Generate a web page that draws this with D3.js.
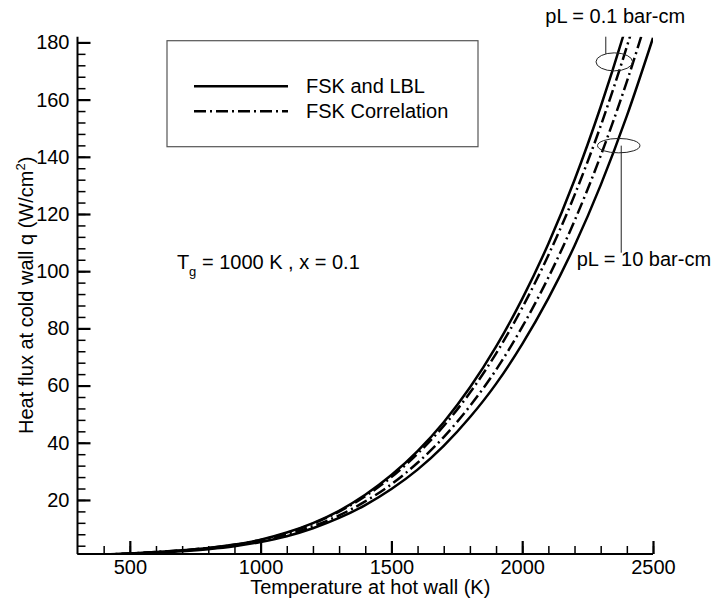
<!DOCTYPE html>
<html>
<head>
<meta charset="utf-8">
<script src="https://cdn.jsdelivr.net/npm/d3@7"></script>
<style>
  body { margin: 0; background: #fff; }
  text { font-family: "Liberation Sans", Arial, Helvetica, sans-serif; fill: #000; }
</style>
</head>
<body>
<div id="chart"></div>
<script>
// hot wall temperature (K)
var temps = [300, 400, 500, 600, 700, 800, 900, 1000, 1100, 1200, 1300, 1400,
             1500, 1600, 1700, 1800, 1900, 2000, 2100, 2200, 2300, 2400, 2500];

// heat flux at cold wall (W/cm2)
var lblPL01 = [0.6, 0.9, 1.3, 1.8, 2.4, 3.2, 4.4, 6.1, 8.6, 11.9, 16.2, 21.8,
               28.7, 37.1, 47.2, 59.3, 73.6, 90.3, 109.6, 131.9, 157.5, 186.5, 219.5];
var corrPL01 = [0.6, 0.9, 1.3, 1.8, 2.4, 3.2, 4.3, 6.0, 8.4, 11.7, 15.9, 21.3,
               28.0, 36.2, 45.9, 57.5, 71.2, 87.2, 105.6, 126.6, 150.8, 178.5, 209.6];
var corrPL10 = [0.6, 0.9, 1.2, 1.7, 2.3, 3.0, 4.1, 5.6, 7.8, 10.8, 14.6, 19.5,
               25.5, 33.0, 42.0, 52.8, 65.5, 80.5, 97.8, 117.6, 140.4, 166.3, 195.5];
var lblPL10  = [0.6, 0.8, 1.2, 1.6, 2.1, 2.8, 3.8, 5.3, 7.3, 10.1, 13.7, 18.2,
               23.8, 30.6, 38.9, 48.9, 60.6, 74.5, 90.5, 108.9, 130.1, 154.3, 181.6];

var xTicks = [500, 1000, 1500, 2000, 2500];
var yTicks = [20, 40, 60, 80, 100, 120, 140, 160, 180];

var legendLabels = ["FSK and LBL", "FSK Correlation"];

var W = 719, H = 602;
var margin = {top: 36.7, right: 66, bottom: 48, left: 77.5},
    width = W - margin.left - margin.right,
    height = H - margin.top - margin.bottom;

var svg = d3.select("#chart")
  .append("svg")
    .attr("width", W)
    .attr("height", H)
  .append("g")
    .attr("transform", "translate(" + margin.left + "," + margin.top + ")");

var x = d3.scaleLinear().domain([300, 2500]).range([0, width]);
var y = d3.scaleLinear().domain([1.1, 182]).range([height, 0]);

svg.append("clipPath").attr("id", "plotclip")
  .append("rect").attr("x", 0).attr("y", 0).attr("width", width).attr("height", height + 1);

// curves
var series = [
  {vals: lblPL01, dash: null},
  {vals: corrPL01, dash: "12,4,2,4"},
  {vals: corrPL10, dash: "12,4,2,4"},
  {vals: lblPL10, dash: null}
];

var line = d3.line()
  .x(function(d){ return x(d[0]); })
  .y(function(d){ return y(d[1]); })
  .curve(d3.curveMonotoneX);

svg.append("g").attr("clip-path", "url(#plotclip)")
  .selectAll("path")
  .data(series)
  .enter()
  .append("path")
    .attr("fill", "none")
    .attr("stroke", "#000")
    .attr("stroke-width", 2.5)
    .attr("stroke-dasharray", function(d){ return d.dash; })
    .attr("d", function(d){ return line(temps.map(function(t, i){ return [t, d.vals[i]]; })); });

// minor ticks (inward)
svg.append("g")
  .attr("transform", "translate(0," + height + ")")
  .call(d3.axisBottom(x).tickValues(d3.range(400, 2501, 100)).tickSize(-8).tickFormat(""))
  .call(function(g){ g.select(".domain").remove(); g.selectAll("line").attr("stroke-width", 1.5); });

svg.append("g")
  .call(d3.axisLeft(y).tickValues(d3.range(4, 181, 4)).tickSize(-8).tickFormat(""))
  .call(function(g){ g.select(".domain").remove(); g.selectAll("line").attr("stroke-width", 1.5); });

// major ticks + labels
var xAxis = svg.append("g")
  .attr("transform", "translate(0," + height + ")")
  .call(d3.axisBottom(x).tickValues(xTicks).tickFormat(d3.format("d"))
    .tickSize(-13).tickSizeOuter(0).tickPadding(6));

var yAxis = svg.append("g")
  .call(d3.axisLeft(y).tickValues(yTicks).tickSize(-13).tickSizeOuter(0).tickPadding(8));

[xAxis, yAxis].forEach(function(g){
  g.select(".domain").attr("stroke-width", 2);
  g.selectAll(".tick line").attr("stroke-width", 2.2);
  g.selectAll(".tick text")
    .style("font-size", "20px")
    .style("font-family", "'Liberation Sans', Arial, sans-serif");
});
yAxis.select(".domain").attr("d", "M0," + height + "V0");
xAxis.select(".domain").attr("d", "M0,0H" + width);

// axis titles
svg.append("text")
  .attr("x", width / 2 + 5)
  .attr("y", height + 40.5)
  .attr("text-anchor", "middle")
  .style("font-size", "20px")
  .text("Temperature at hot wall (K)");

var yt = svg.append("text")
  .attr("transform", "translate(" + (-44.5) + "," + (height / 2) + ")rotate(-90)")
  .attr("text-anchor", "middle")
  .style("font-size", "20px");
yt.append("tspan").text("Heat flux at cold wall q (W/cm");
yt.append("tspan").attr("dy", -8).style("font-size", "13px").text("2");
yt.append("tspan").attr("dy", 8).text(")");

// legend
var lg = svg.append("g").attr("transform", "translate(" + (167 - margin.left) + "," + (40.7 - margin.top) + ")");
lg.append("rect")
  .attr("width", 311).attr("height", 106)
  .attr("fill", "#fff").attr("stroke", "#555").attr("stroke-width", 1.2);
legendLabels.forEach(function(lab, i){
  var yy = 45.5 + i * 25;
  lg.append("line")
    .attr("x1", 27).attr("x2", 121).attr("y1", yy).attr("y2", yy)
    .attr("stroke", "#000").attr("stroke-width", 2.5)
    .attr("stroke-dasharray", series[i].dash);
  lg.append("text")
    .attr("x", 139).attr("y", yy + 7)
    .style("font-size", "20px")
    .text(lab);
});

// condition label
var tg = svg.append("text")
  .attr("x", x(680)).attr("y", y(100.7))
  .style("font-size", "20px");
tg.append("tspan").text("T");
tg.append("tspan").attr("dy", 7).style("font-size", "13px").text("g");
tg.append("tspan").attr("dy", -7).text(" = 1000 K , x = 0.1");

// pL annotations
var ann01 = {t: 2352, q: 173.2}, ann10 = {t: 2369, q: 143.9};

svg.append("ellipse")
  .attr("cx", x(ann01.t)).attr("cy", y(ann01.q)).attr("rx", 18.3).attr("ry", 9)
  .attr("fill", "none").attr("stroke", "#222").attr("stroke-width", 1);
svg.append("line")
  .attr("x1", x(ann01.t) - 8.5).attr("x2", x(ann01.t) - 8.5)
  .attr("y1", 0).attr("y2", y(ann01.q) - 8)
  .attr("stroke", "#222").attr("stroke-width", 1);
svg.append("text")
  .attr("x", x(ann01.t) - 69).attr("y", -13.7)
  .style("font-size", "20px")
  .text("pL = 0.1 bar-cm");

svg.append("ellipse")
  .attr("cx", x(ann10.t)).attr("cy", y(ann10.q)).attr("rx", 21.2).attr("ry", 7.2)
  .attr("fill", "none").attr("stroke", "#222").attr("stroke-width", 1);
svg.append("line")
  .attr("x1", x(ann10.t) + 2.5).attr("x2", x(ann10.t) + 2.5)
  .attr("y1", y(ann10.q)).attr("y2", 216)
  .attr("stroke", "#222").attr("stroke-width", 1);
svg.append("text")
  .attr("x", x(ann10.t) - 42).attr("y", 229.5)
  .style("font-size", "20px")
  .text("pL = 10 bar-cm");
</script>
</body>
</html>
